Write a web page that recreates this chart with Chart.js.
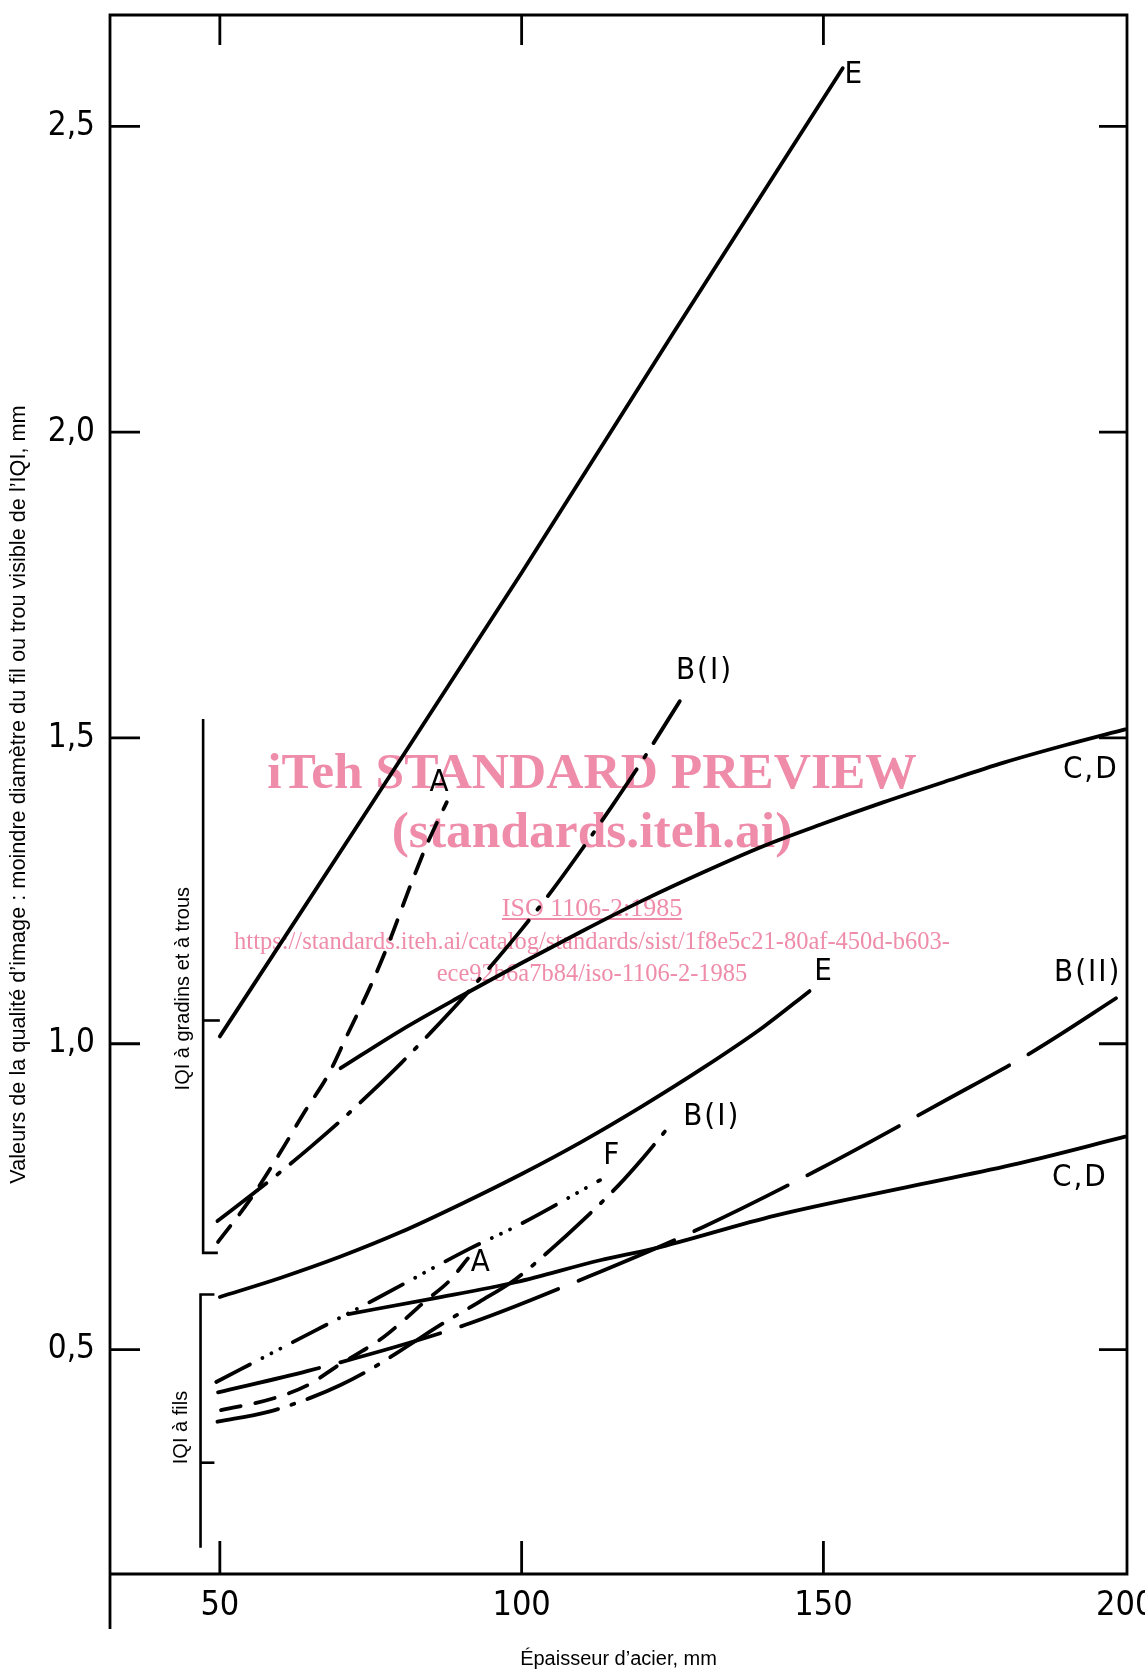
<!DOCTYPE html>
<html>
<head>
<meta charset="utf-8">
<script src="https://cdn.jsdelivr.net/npm/chart.js@4.4.1/dist/chart.umd.min.js"></script>
<style>
html,body{margin:0;padding:0;background:#fff;}
#wrap{position:relative;width:1145px;height:1672px;overflow:hidden;background:#fff;}
canvas{display:block;}
.wm{position:absolute;left:592px;transform:translateX(-50%);color:#ee8caa;font-family:'Liberation Serif','Times New Roman',serif;line-height:1;white-space:nowrap;mix-blend-mode:multiply;pointer-events:none;}
</style>
</head>
<body>
<div id="wrap">
<canvas id="c" width="1145" height="1672"></canvas>
<div class="wm" style="top:745px;font-size:51.5px;font-weight:bold;">iTeh STANDARD PREVIEW</div>
<div class="wm" style="top:804px;font-size:51.5px;font-weight:bold;">(standards.iteh.ai)</div>
<div class="wm" style="top:895px;font-size:26px;text-decoration:underline;">ISO 1106-2:1985</div>
<div class="wm" style="top:929px;font-size:24.5px;">https://standards.iteh.ai/catalog/standards/sist/1f8e5c21-80af-450d-b603-</div>
<div class="wm" style="top:961px;font-size:24.5px;">ece92b6a7b84/iso-1106-2-1985</div>
</div>
<script>
// ---------- axis ticks ----------
const xTickValues = [50, 100, 150, 200];
const xTickLabels = ['50', '100', '150', '200'];
const yTickValues = [0.5, 1.0, 1.5, 2.0, 2.5];
const yTickLabels = ['0,5', '1,0', '1,5', '2,0', '2,5'];

// ---------- upper group : IQI à gradins et à trous ----------
const upE_x  = [50, 75, 100, 125, 153.2];
const upE_y  = [1.012, 1.39, 1.77, 2.16, 2.595];

const upA_x  = [49.7, 55, 60, 64, 68, 71, 75, 78, 81.7, 84.5, 87.6];
const upA_y  = [0.676, 0.745, 0.822, 0.888, 0.95, 1.012, 1.095, 1.165, 1.262, 1.33, 1.395];

const upBI_x = [49.6, 55, 60, 65, 70, 75, 80, 85, 90, 95, 100, 105, 110, 115, 120, 126.2];
const upBI_y = [0.71, 0.751, 0.79, 0.831, 0.874, 0.92, 0.968, 1.019, 1.072, 1.128, 1.187, 1.25, 1.318, 1.389, 1.463, 1.56];

const upCD_x = [70, 80, 90, 100, 110, 120, 130, 140, 150, 160, 170, 180, 190, 200];
const upCD_y = [0.96, 1.022, 1.078, 1.132, 1.184, 1.234, 1.28, 1.323, 1.36, 1.395, 1.428, 1.46, 1.488, 1.514];

// ---------- lower group : IQI à fils ----------
const loE_x   = [50, 60, 70, 80, 90, 100, 110, 120, 130, 140, 147.7];
const loE_y   = [0.586, 0.617, 0.652, 0.692, 0.738, 0.787, 0.84, 0.898, 0.96, 1.027, 1.086];

const loBII_x = [49.7, 64.6, 90.6, 111, 130, 149.5, 170.7, 184.5, 200];
const loBII_y = [0.43, 0.465, 0.54, 0.619, 0.70, 0.796, 0.91, 0.986, 1.084];

const loBI_x  = [49.6, 58, 65, 70, 75, 81, 87, 93, 99, 105, 110, 116, 120, 125.1];
const loBI_y  = [0.382, 0.398, 0.421, 0.442, 0.468, 0.505, 0.543, 0.578, 0.615, 0.665, 0.71, 0.768, 0.812, 0.873];

const loF_x   = [49.4, 61.5, 75.9, 91.4, 99.4, 113];
const loF_y   = [0.447, 0.509, 0.583, 0.665, 0.703, 0.777];

const loA_x   = [50.2, 58.8, 64.6, 69.6, 76.8, 79.8, 83.9, 88.1, 91.1];
const loA_y   = [0.401, 0.42, 0.442, 0.474, 0.518, 0.542, 0.578, 0.613, 0.649];

const loCD_x  = [71.3, 85, 99, 113, 121.9, 142, 165, 182.2, 200];
const loCD_y  = [0.558, 0.583, 0.61, 0.646, 0.665, 0.719, 0.768, 0.804, 0.848];

// ---------- range brackets (left side) ----------
const brGrad_x = [49.67, 47.23, 47.23];
const brGrad_y = [0.658, 0.658, 1.531];
const brGradTick_x = [47.23, 50];
const brGradTick_y = [1.038, 1.038];
const brFils_x = [49.1, 46.8, 46.8];
const brFils_y = [0.590, 0.590, 0.176];
const brFilsTick_x = [46.8, 49.1];
const brFilsTick_y = [0.315, 0.315];

// ---------- curve labels ----------
const curveLabelText = ['E', 'B(I)', 'A', 'C,D', 'E', 'B(II)', 'B(I)', 'F', 'A', 'C,D'];
const curveLabelX    = [155.1, 130.3, 86.5, 194.3, 150.1, 193.8, 131.5, 115.0, 93.3, 192.5];
const curveLabelY    = [2.584, 1.610, 1.426, 1.448, 1.118, 1.116, 0.881, 0.816, 0.642, 0.781];

const bracketLabelText = ['IQI à gradins et à trous', 'IQI à fils'];
const bracketLabelX = [44.03, 43.7];
const bracketLabelY = [1.090, 0.3725];

// ---------- styles ----------
const NARROW = "'Liberation Sans Narrow', 'DejaVu Sans Condensed', sans-serif";
const SANS = "'Liberation Sans', Arial, sans-serif";
const DASH_A = [20, 15];
const DASH_BI = [62, 14, 3, 14];
const DASH_BII = [104, 22];
const DASH_F = [38, 14, 0.1, 10, 0.1, 10, 0.1, 14];

function pts(xs, ys) { return xs.map((v, i) => ({ x: v, y: ys[i] })); }
function curve(xs, ys, dash, w) {
  return {
    data: pts(xs, ys), borderColor: '#000', borderWidth: w || 3.8,
    borderDash: dash, borderCapStyle: 'round', borderJoinStyle: 'round',
    pointRadius: 0, pointHoverRadius: 0, fill: false,
    cubicInterpolationMode: 'monotone', clip: false
  };
}
function bracket(xs, ys) {
  return {
    data: pts(xs, ys), borderColor: '#000', borderWidth: 2.6, borderDash: [],
    borderCapStyle: 'butt', borderJoinStyle: 'miter',
    pointRadius: 0, pointHoverRadius: 0, fill: false, tension: 0, clip: false
  };
}

const datasets = [
  curve(upE_x, upE_y, []),
  curve(upA_x, upA_y, DASH_A),
  curve(upBI_x, upBI_y, DASH_BI),
  curve(upCD_x, upCD_y, []),
  curve(loE_x, loE_y, []),
  curve(loBII_x, loBII_y, DASH_BII),
  curve(loBI_x, loBI_y, DASH_BI),
  curve(loF_x, loF_y, DASH_F),
  curve(loA_x, loA_y, DASH_A),
  curve(loCD_x, loCD_y, []),
  bracket(brGrad_x, brGrad_y),
  bracket(brGradTick_x, brGradTick_y),
  bracket(brFils_x, brFils_y),
  bracket(brFilsTick_x, brFilsTick_y)
];

const framePlugin = {
  id: 'frame',
  beforeDatasetsDraw(chart) {
    const { ctx, chartArea: { left, right, top, bottom }, scales: { x, y } } = chart;
    ctx.save();
    ctx.strokeStyle = '#000';
    ctx.lineWidth = 2.8;
    ctx.lineCap = 'butt';
    ctx.lineJoin = 'miter';
    ctx.beginPath();
    ctx.moveTo(left, bottom + 55);
    ctx.lineTo(left, top);
    ctx.lineTo(right, top);
    ctx.lineTo(right, bottom);
    ctx.lineTo(left, bottom);
    ctx.stroke();
    const TL = 30;
    ctx.beginPath();
    xTickValues.forEach(v => {
      const px = x.getPixelForValue(v);
      if (px >= right - 2) return;
      ctx.moveTo(px, bottom); ctx.lineTo(px, bottom - TL - 3);
      ctx.moveTo(px, top); ctx.lineTo(px, top + TL);
    });
    yTickValues.forEach(v => {
      const py = y.getPixelForValue(v);
      ctx.moveTo(left, py); ctx.lineTo(left + TL, py);
      ctx.moveTo(right, py); ctx.lineTo(right - TL + 2, py);
    });
    ctx.stroke();
    ctx.restore();
  },
  afterDatasetsDraw(chart) {
    const { ctx, scales: { x, y } } = chart;
    ctx.save();
    ctx.fillStyle = '#000';
    ctx.textAlign = 'center';
    ctx.textBaseline = 'middle';
    ctx.font = '31px ' + NARROW;
    if ('letterSpacing' in ctx) ctx.letterSpacing = '2px';
    curveLabelText.forEach((t, i) => {
      ctx.fillText(t, x.getPixelForValue(curveLabelX[i]), y.getPixelForValue(curveLabelY[i]));
    });
    if ('letterSpacing' in ctx) ctx.letterSpacing = '0px';
    ctx.font = '20px ' + SANS;
    bracketLabelText.forEach((t, i) => {
      ctx.save();
      ctx.translate(x.getPixelForValue(bracketLabelX[i]), y.getPixelForValue(bracketLabelY[i]));
      ctx.rotate(-Math.PI / 2);
      ctx.fillText(t, 0, 0);
      ctx.restore();
    });
    ctx.restore();
  }
};

new Chart(document.getElementById('c'), {
  type: 'line',
  data: { datasets },
  options: {
    responsive: false,
    devicePixelRatio: 1,
    animation: false,
    events: [],
    layout: { padding: { top: 15, right: 18, left: 0, bottom: 0 } },
    plugins: { legend: { display: false }, tooltip: { enabled: false } },
    scales: {
      x: {
        type: 'linear', min: 31.8, max: 200.3,
        grid: { display: false, drawTicks: false },
        border: { display: false },
        afterBuildTicks: s => { s.ticks = xTickValues.map(v => ({ value: v })); },
        afterFit: s => { s.height = 98; s.paddingLeft = 0; s.paddingRight = 0; },
        ticks: {
          autoSkip: false, maxRotation: 0, minRotation: 0, padding: 15, color: '#000',
          font: { family: NARROW, size: 34, lineHeight: 1 },
          callback: v => xTickLabels[xTickValues.indexOf(v)]
        },
        title: {
          display: true, text: 'Épaisseur d’acier, mm', color: '#000',
          font: { family: SANS, size: 20, lineHeight: 1.2 }, padding: { top: 0, bottom: 1 }
        }
      },
      y: {
        type: 'linear', min: 0.133, max: 2.682,
        grid: { display: false, drawTicks: false },
        border: { display: false },
        afterBuildTicks: s => { s.ticks = yTickValues.map(v => ({ value: v })); },
        afterFit: s => { s.width = 110; s.paddingTop = 0; s.paddingBottom = 0; },
        ticks: {
          autoSkip: false, padding: 15, color: '#000',
          font: { family: NARROW, size: 33, lineHeight: 1 },
          callback: v => yTickLabels[yTickValues.indexOf(v)]
        },
        title: {
          display: true,
          text: 'Valeurs de la qualité d’image : moindre diamètre du fil ou trou visible de l’IQI, mm',
          color: '#000', font: { family: SANS, size: 21.7, lineHeight: 1.2 }, padding: { top: 6, bottom: 0 }
        }
      }
    }
  },
  plugins: [framePlugin]
});
</script>
</body>
</html>
